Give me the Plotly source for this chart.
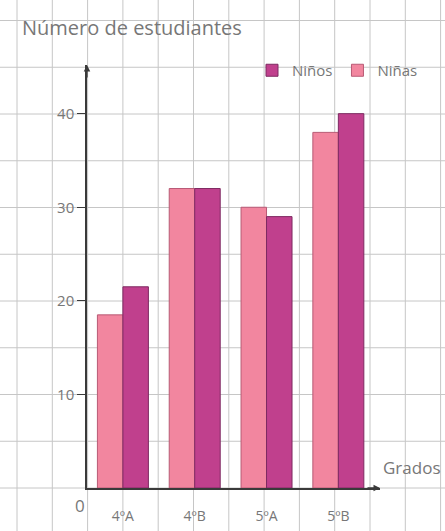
import plotly.graph_objects as go

# ---- data ----
grados = ["4ºA", "4ºB", "5ºA", "5ºB"]
ninas = [18.5, 32, 30, 38]
ninos = [21.5, 32, 29, 40]
y_tick_vals = [10, 20, 30, 40]

W, H = 445, 531
GRAY = "#777777"
AXIS = "#3a3a3a"

fig = go.Figure()
fig.add_trace(go.Bar(
    name="Niñas", x=grados, y=ninas,
    marker=dict(color="#F2869F", line=dict(color="#B85A75", width=1)),
))
fig.add_trace(go.Bar(
    name="Niños", x=grados, y=ninos,
    marker=dict(color="#C0408D", line=dict(color="#7E2A62", width=1)),
))

# graph-paper background grid (decoration)
shapes = []
for k in range(13):
    xp = (17 + 35.3 * k) / W
    shapes.append(dict(type="line", xref="paper", yref="paper", x0=xp, x1=xp, y0=0, y1=1,
                       line=dict(color="#c6c6c6", width=1), layer="below"))
for k in range(-1, 11):
    yp = (H - (488 - 46.75 * k)) / H
    shapes.append(dict(type="line", xref="paper", yref="paper", x0=0, x1=1, y0=yp, y1=yp,
                       line=dict(color="#c6c6c6", width=1), layer="below"))

annotations = [
    dict(text="Número de estudiantes", xref="paper", yref="paper", x=20 / W, y=(H - 28) / H,
         xanchor="left", yanchor="middle", showarrow=False,
         font=dict(family="Open Sans", size=20, color=GRAY)),
    dict(text="Grados", xref="paper", yref="paper", x=411 / W, y=(H - 467) / H,
         xanchor="center", yanchor="middle", showarrow=False,
         font=dict(family="Open Sans", size=17, color=GRAY)),
    dict(text="0", xref="paper", yref="paper", x=80 / W, y=(H - 505) / H,
         xanchor="center", yanchor="middle", showarrow=False,
         font=dict(family="Open Sans", size=17, color=GRAY)),
    # arrow heads on axes
    dict(text="", xref="x domain", yref="y domain", x=1, y=0, ax=-14, ay=0,
         showarrow=True, arrowhead=2, arrowsize=1, arrowwidth=1.3, arrowcolor=AXIS),
    dict(text="", xref="x domain", yref="y domain", x=0, y=1, ax=0, ay=14,
         showarrow=True, arrowhead=2, arrowsize=1, arrowwidth=1.3, arrowcolor=AXIS),
]

fig.update_layout(
    width=W, height=H,
    margin=dict(l=0, r=0, t=0, b=0),
    paper_bgcolor="white", plot_bgcolor="rgba(0,0,0,0)",
    barmode="group", bargap=0.29, bargroupgap=0,
    font=dict(family="Open Sans", color=GRAY),
    shapes=shapes, annotations=annotations,
    legend=dict(orientation="h", x=252 / W, y=(H - 54) / H, xanchor="left", yanchor="top",
                traceorder="reversed", bgcolor="rgba(0,0,0,0)",
                font=dict(family="Open Sans", size=15, color=GRAY)),
    xaxis=dict(domain=[87 / W, 380 / W], range=[-0.5, 3.58],
               showline=True, linecolor=AXIS, linewidth=1.5,
               ticks="outside", ticklen=14, tickcolor="rgba(0,0,0,0)",
               tickfont=dict(family="Open Sans", size=14, color=GRAY),
               showgrid=False, zeroline=False, fixedrange=True),
    yaxis=dict(domain=[(H - 488) / H, (H - 65) / H], range=[0, 45.2],
               tickvals=y_tick_vals, ticks="outside", ticklen=8, tickcolor=AXIS,
               showline=True, linecolor=AXIS, linewidth=1.5,
               tickfont=dict(family="Open Sans", size=15, color=GRAY),
               showgrid=False, zeroline=False, fixedrange=True),
    showlegend=True,
)

fig.write_html("out.html")
